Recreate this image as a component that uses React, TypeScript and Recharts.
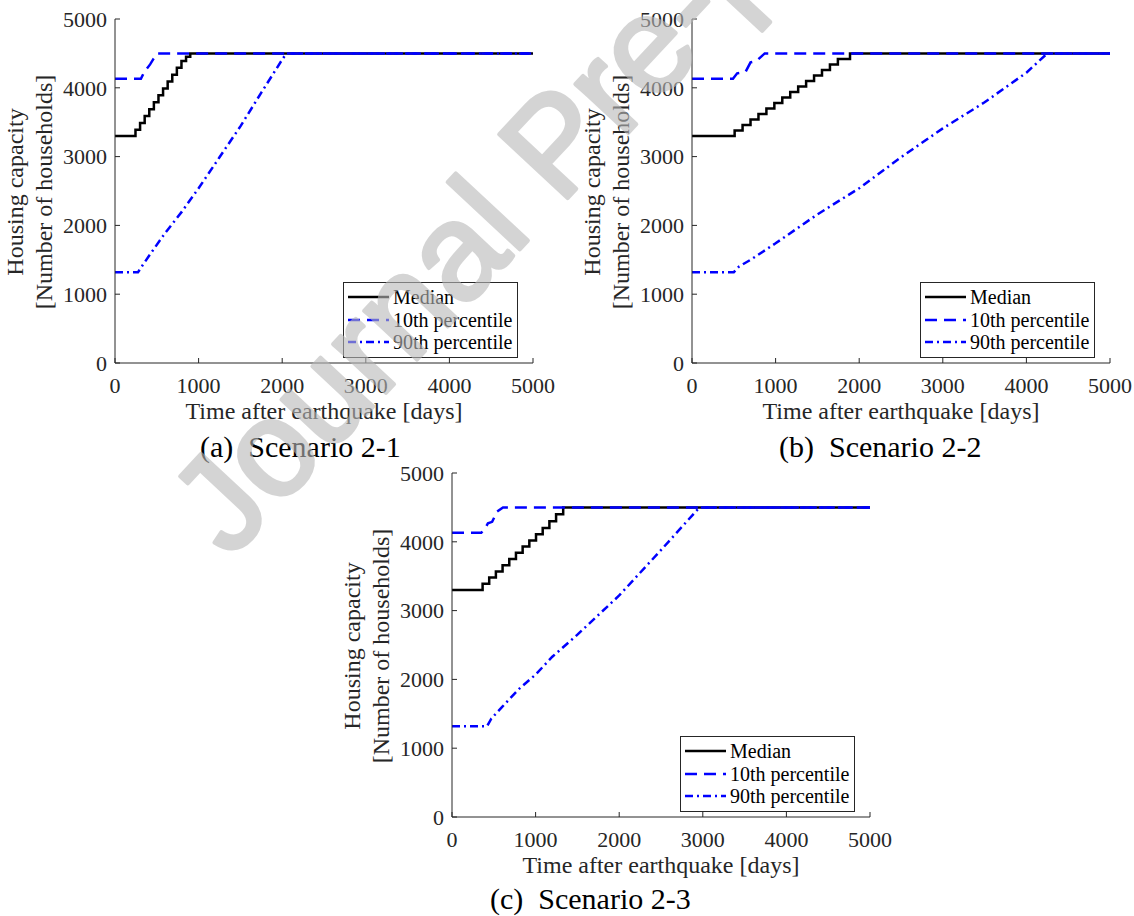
import React from "react";
import { Legend, Line, LineChart, XAxis, YAxis } from "recharts";

const SERIF = '"Liberation Serif", "Times New Roman", serif';
const INK = "#262626";

const DAY_TICKS = [0, 1000, 2000, 3000, 4000, 5000];
const CAPACITY_TICKS = [0, 1000, 2000, 3000, 4000, 5000];

// [days after earthquake, housing capacity]
const MEDIAN_2_1 = [
  [0, 3300], [245, 3390], [300, 3490], [355, 3590], [410, 3690], [465, 3790],
  [520, 3890], [575, 3990], [630, 4090], [685, 4190], [740, 4290], [795, 4390],
  [850, 4450], [900, 4500], [5000, 4500],
];
const P10_2_1 = [
  [0, 4130], [310, 4130], [350, 4230], [420, 4340], [460, 4420], [510, 4500], [5000, 4500],
];
const P90_2_1 = [
  [0, 1320], [275, 1320], [330, 1420], [420, 1580], [600, 1890], [800, 2200],
  [1000, 2540], [1250, 2990], [1500, 3440], [1750, 3930], [2000, 4410], [2050, 4500],
  [5000, 4500],
];

const MEDIAN_2_2 = [
  [0, 3300], [510, 3380], [605, 3460], [700, 3540], [795, 3620], [890, 3700],
  [985, 3780], [1080, 3860], [1175, 3940], [1270, 4020], [1365, 4100], [1460, 4180],
  [1555, 4260], [1650, 4340], [1745, 4420], [1890, 4500], [5000, 4500],
];
const P10_2_2 = [
  [0, 4130], [490, 4130], [540, 4210], [640, 4230], [700, 4370], [770, 4390],
  [870, 4500], [5000, 4500],
];
const P90_2_2 = [
  [0, 1320], [500, 1320], [560, 1400], [700, 1500], [1000, 1740], [1500, 2160],
  [2000, 2540], [2500, 2990], [3000, 3410], [3500, 3790], [4000, 4220], [4250, 4500],
  [5000, 4500],
];

const MEDIAN_2_3 = [
  [0, 3300], [366, 3390], [445, 3480], [525, 3570], [605, 3660], [685, 3750],
  [765, 3840], [845, 3930], [925, 4020], [1005, 4110], [1085, 4200], [1165, 4300],
  [1245, 4400], [1330, 4500], [5000, 4500],
];
const P10_2_3 = [
  [0, 4130], [350, 4130], [400, 4200], [430, 4270], [480, 4290], [540, 4440],
  [610, 4500], [5000, 4500],
];
const P90_2_3 = [
  [0, 1320], [420, 1320], [470, 1430], [600, 1600], [800, 1860], [1000, 2070],
  [1200, 2330], [1500, 2650], [2000, 3220], [2500, 3880], [2960, 4500], [5000, 4500],
];

const SERIES = [
  { name: "Median", color: "#000000", dash: undefined, type: "stepAfter" },
  { name: "10th percentile", color: "#0000ff", dash: "12 7", type: "linear" },
  { name: "90th percentile", color: "#0000ff", dash: "8 4 2 4", type: "linear" },
] as const;

const SERIES_NAMES = SERIES.map((s) => s.name) as string[];

const toPoints = (rows: number[][]) => rows.map(([day, cap]) => ({ day, cap }));

function XTitle({ viewBox }: any) {
  return (
    <text
      x={viewBox.x + viewBox.width / 2}
      y={viewBox.y + 56}
      textAnchor="middle"
      fontFamily={SERIF}
      fontSize={24}
      fill={INK}
    >
      Time after earthquake [days]
    </text>
  );
}

function YTitle({ viewBox }: any) {
  const plotLeft = viewBox.x + viewBox.width;
  const cy = viewBox.y + viewBox.height / 2 + 1;
  const lines = [
    { text: "Housing capacity", x: plotLeft - 92 },
    { text: "[Number of households]", x: plotLeft - 63 },
  ];
  return (
    <g>
      {lines.map((l) => (
        <text
          key={l.text}
          x={l.x}
          y={cy}
          transform={`rotate(-90 ${l.x} ${cy})`}
          textAnchor="middle"
          fontFamily={SERIF}
          fontSize={24}
          fill={INK}
        >
          {l.text}
        </text>
      ))}
    </g>
  );
}

// legend keeps the plotting order instead of recharts' alphabetical sort
function LegendBox({ payload }: any) {
  const items = [...(payload ?? [])].sort(
    (a: any, b: any) => SERIES_NAMES.indexOf(a.value) - SERIES_NAMES.indexOf(b.value)
  );
  return (
    <div
      style={{
        boxSizing: "border-box",
        width: 175,
        border: `1px solid ${INK}`,
        background: "#fff",
        padding: "3px 0 3px 4px",
        fontFamily: SERIF,
        fontSize: 20,
        lineHeight: "22.5px",
        color: "#000",
      }}
    >
      {items.map((entry: any) => {
        const s = SERIES.find((x) => x.name === entry.value);
        return (
          <div key={entry.value} style={{ display: "flex", alignItems: "center", whiteSpace: "nowrap" }}>
            <svg width={41} height={10} style={{ display: "block" }}>
              <line
                x1={0}
                x2={41}
                y1={5}
                y2={5}
                stroke={entry.color}
                strokeWidth={2.5}
                strokeDasharray={s?.dash}
              />
            </svg>
            <span style={{ marginLeft: 4 }}>{entry.value}</span>
          </div>
        );
      })}
    </div>
  );
}

function Panel({
  left,
  top,
  width,
  right,
  series,
}: {
  left: number;
  top: number;
  width: number;
  right: number;
  series: number[][][];
}) {
  const tickStyle = { fill: INK, fontSize: 22, fontFamily: SERIF };
  return (
    <div style={{ position: "absolute", left, top }}>
      <LineChart width={width} height={440} margin={{ top: 19, right, bottom: 0, left: 0 }}>
        <XAxis
          dataKey="day"
          type="number"
          domain={[0, 5000]}
          ticks={DAY_TICKS}
          allowDataOverflow
          height={77}
          stroke={INK}
          tickSize={-5}
          tickMargin={19}
          tick={tickStyle}
          label={<XTitle />}
        />
        <XAxis
          xAxisId="top"
          orientation="top"
          dataKey="day"
          type="number"
          domain={[0, 5000]}
          ticks={DAY_TICKS}
          allowDataOverflow
          height={0}
          stroke={INK}
          tickSize={-5}
          tick={false}
        />
        <YAxis
          type="number"
          domain={[0, 5000]}
          ticks={CAPACITY_TICKS}
          allowDataOverflow
          width={115}
          stroke={INK}
          tickSize={-5}
          tickMargin={13}
          tick={tickStyle}
          label={<YTitle />}
        />
        <YAxis
          yAxisId="right"
          orientation="right"
          type="number"
          domain={[0, 5000]}
          ticks={CAPACITY_TICKS}
          allowDataOverflow
          width={0}
          stroke={INK}
          tickSize={-5}
          tick={false}
        />
        {SERIES.map((s, i) => (
          <Line
            key={s.name}
            name={s.name}
            data={toPoints(series[i])}
            dataKey="cap"
            type={s.type}
            stroke={s.color}
            strokeWidth={2.5}
            strokeDasharray={s.dash}
            dot={false}
            activeDot={false}
            isAnimationActive={false}
          />
        ))}
        <Legend
          layout="vertical"
          align="center"
          verticalAlign="middle"
          content={<LegendBox />}
          wrapperStyle={{ left: 343, top: 282, width: 175, height: "auto" }}
        />
      </LineChart>
    </div>
  );
}

const CAPTIONS = [
  { text: "(a)  Scenario 2-1", x: 200, y: 457 },
  { text: "(b)  Scenario 2-2", x: 779, y: 457 },
  { text: "(c)  Scenario 2-3", x: 490, y: 909 },
];

export default function App() {
  return (
    <div
      style={{
        position: "absolute",
        left: 0,
        top: 0,
        width: 1134,
        height: 916,
        overflow: "hidden",
        background: "#fff",
      }}
    >
      <Panel left={0} top={0} width={560} right={27} series={[MEDIAN_2_1, P10_2_1, P90_2_1]} />
      <Panel left={577} top={0} width={557} right={24} series={[MEDIAN_2_2, P10_2_2, P90_2_2]} />
      <Panel left={337} top={454} width={560} right={27} series={[MEDIAN_2_3, P10_2_3, P90_2_3]} />
      <svg
        width={1134}
        height={916}
        style={{ position: "absolute", left: 0, top: 0, pointerEvents: "none" }}
      >
        {CAPTIONS.map((c) => (
          <text
            key={c.text}
            x={c.x}
            y={c.y}
            fontFamily={SERIF}
            fontSize={30}
            fill="#000"
            style={{ whiteSpace: "pre" }}
          >
            {c.text}
          </text>
        ))}
        {/* preprint stamp across the upper-left panels */}
        <g opacity={0.6}>
          <text
            x={230}
            y={560}
            transform="rotate(-47 230 560)"
            fontFamily='"Liberation Sans", Arial, sans-serif'
            fontSize={136}
            fill="rgb(185,185,185)"
            stroke="rgb(185,185,185)"
            strokeWidth={4}
            strokeLinejoin="round"
          >
            Journal Pre-proof
          </text>
        </g>
      </svg>
    </div>
  );
}
